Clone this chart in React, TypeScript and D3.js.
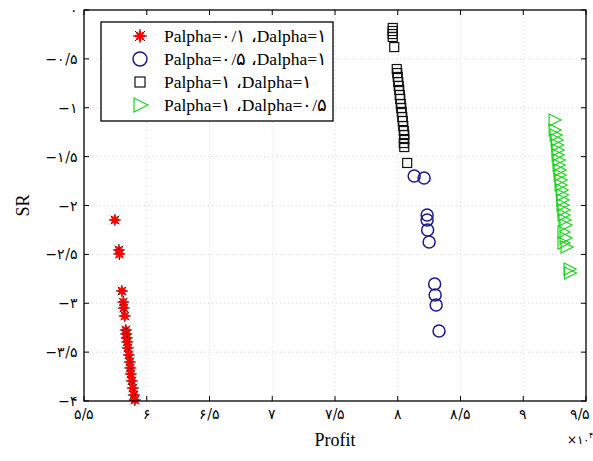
import React from "react";
import * as d3 from "d3";

const xTicks = [5.5, 6, 6.5, 7, 7.5, 8, 8.5, 9, 9.5];
const yTicks = [0, -0.5, -1, -1.5, -2, -2.5, -3, -3.5, -4];

const starX = [5.746, 5.778, 5.782, 5.802, 5.813, 5.817, 5.825, 5.833, 5.837, 5.841, 5.845, 5.849, 5.857, 5.865, 5.869, 5.873, 5.881, 5.889, 5.897, 5.905];
const starY = [-2.148, -2.455, -2.496, -2.875, -2.987, -3.049, -3.13, -3.274, -3.315, -3.355, -3.396, -3.458, -3.529, -3.601, -3.662, -3.724, -3.795, -3.867, -3.939, -3.99];

const circX = [8.131, 8.21, 8.234, 8.234, 8.238, 8.25, 8.294, 8.298, 8.306, 8.329];
const circY = [-1.698, -1.719, -2.097, -2.148, -2.251, -2.373, -2.803, -2.916, -3.018, -3.284];

const sqX = [7.96, 7.96, 7.96, 7.96, 7.972, 7.992, 7.996, 8.0, 8.004, 8.008, 8.012, 8.016, 8.02, 8.024, 8.028, 8.032, 8.036, 8.04, 8.044, 8.048, 8.052, 8.052, 8.048, 8.052, 8.075];
const sqY = [-0.184, -0.215, -0.246, -0.276, -0.379, -0.604, -0.645, -0.685, -0.737, -0.777, -0.818, -0.87, -0.91, -0.962, -1.003, -1.043, -1.095, -1.136, -1.187, -1.238, -1.279, -1.32, -1.361, -1.402, -1.565];

const triX = [9.254, 9.254, 9.262, 9.27, 9.274, 9.278, 9.278, 9.286, 9.286, 9.294, 9.294, 9.302, 9.302, 9.31, 9.314, 9.317, 9.317, 9.325, 9.325, 9.333, 9.341, 9.325, 9.341, 9.325, 9.349, 9.373, 9.376];
const triY = [-1.125, -1.228, -1.279, -1.33, -1.381, -1.432, -1.483, -1.535, -1.586, -1.637, -1.688, -1.739, -1.79, -1.841, -1.893, -1.944, -1.995, -2.046, -2.097, -2.148, -2.199, -2.271, -2.332, -2.384, -2.425, -2.65, -2.691];

const legendLabels = [
  "Palpha=۰/۱ ،Dalpha=۱",
  "Palpha=۰/۵ ،Dalpha=۱",
  "Palpha=۱ ،Dalpha=۱",
  "Palpha=۱ ،Dalpha=۰/۵",
];

const fa = (s: string) => s.replace(/[0-9]/g, (d) => "۰۱۲۳۴۵۶۷۸۹"[+d]);
const fmt = (v: number) => {
  const a = Math.abs(v);
  const s = fa(String(a).replace(".", "/"));
  return v < 0 ? "−" + s : s;
};

const W = 593, H = 461;
const L = 84, R = 586, T = 10, B = 401;
const x = d3.scaleLinear().domain([5.5, 9.5]).range([L, R]);
const y = d3.scaleLinear().domain([-4, 0]).range([B, T]);

const Star = ({ cx, cy, r = 6 }: { cx: number; cy: number; r?: number }) => {
  const angs = [0, 45, 90, 135];
  return (
    <g>
      {angs.map((a) => {
        const dx = Math.cos((a * Math.PI) / 180) * r;
        const dy = Math.sin((a * Math.PI) / 180) * r;
        return <line key={"b" + a} x1={cx - dx} y1={cy - dy} x2={cx + dx} y2={cy + dy} stroke="#300" strokeWidth={1} />;
      })}
      {angs.map((a) => {
        const dx = Math.cos((a * Math.PI) / 180) * r * 0.75;
        const dy = Math.sin((a * Math.PI) / 180) * r * 0.75;
        return <line key={"r" + a} x1={cx - dx} y1={cy - dy} x2={cx + dx} y2={cy + dy} stroke="#f00" strokeWidth={2.2} />;
      })}
      <circle cx={cx} cy={cy} r={2.2} fill="#f00" />
    </g>
  );
};

const Tri = ({ cx, cy, s = 6 }: { cx: number; cy: number; s?: number }) => (
  <path d={`M${cx - s},${cy - s} L${cx + s},${cy} L${cx - s},${cy + s} Z`} fill="none" stroke="#1fd21f" strokeWidth={1.2} />
);

export default function App() {
  const serif = "'Liberation Serif', 'Times New Roman', serif";
  const faFont = "'DejaVu Serif', 'Liberation Serif', serif";
  return (
    <svg width={W} height={H} style={{ position: "absolute", left: 0, top: 0, background: "#fff" }}>
      <rect x={0} y={0} width={W} height={H} fill="#fff" />
      {xTicks.slice(1, -1).map((t) => (
        <line key={"gx" + t} x1={x(t)} x2={x(t)} y1={T} y2={B} stroke="#d8d8d8" strokeDasharray="1,3" />
      ))}
      {yTicks.slice(1, -1).map((t) => (
        <line key={"gy" + t} y1={y(t)} y2={y(t)} x1={L} x2={R} stroke="#d8d8d8" strokeDasharray="1,3" />
      ))}
      {xTicks.map((t) => (
        <g key={"tx" + t}>
          <line x1={x(t)} x2={x(t)} y1={B} y2={B - 5} stroke="#000" />
          <line x1={x(t)} x2={x(t)} y1={T} y2={T + 5} stroke="#000" />
          <text x={Math.min(x(t), 580)} y={B + 18} textAnchor="middle" fontFamily={faFont} fontSize={14} fill="#000">{fmt(t)}</text>
        </g>
      ))}
      {yTicks.map((t) => (
        <g key={"ty" + t}>
          <line x1={L} x2={L + 5} y1={y(t)} y2={y(t)} stroke="#000" />
          <line x1={R} x2={R - 5} y1={y(t)} y2={y(t)} stroke="#000" />
          <text x={L - 6} y={y(t) + 5} textAnchor="end" fontFamily={faFont} fontSize={14} fill="#000">{fmt(t)}</text>
        </g>
      ))}
      {sqX.map((v, i) => (
        <rect key={"s" + i} x={x(v) - 4.5} y={y(sqY[i]) - 4.5} width={9} height={9} fill="none" stroke="#111" strokeWidth={1.2} />
      ))}
      {circX.map((v, i) => (
        <circle key={"c" + i} cx={x(v)} cy={y(circY[i])} r={6} fill="none" stroke="#1a1a8c" strokeWidth={1.5} />
      ))}
      {triX.map((v, i) => (
        <Tri key={"t" + i} cx={x(v)} cy={y(triY[i])} />
      ))}
      {starX.map((v, i) => (
        <Star key={"st" + i} cx={x(v)} cy={y(starY[i])} />
      ))}
      <rect x={L} y={T} width={R - L} height={B - T} fill="none" stroke="#000" strokeWidth={1.3} />
      <rect x={101} y={22} width={232} height={99} fill="#fff" stroke="#000" strokeWidth={1.3} />
      <Star cx={140} cy={36} r={7} />
      <circle cx={140} cy={59} r={7} fill="none" stroke="#1a1a8c" strokeWidth={1.5} />
      <rect x={135} y={77} width={10} height={10} fill="none" stroke="#111" strokeWidth={1.2} />
      <Tri cx={141} cy={105} s={7} />
      {legendLabels.map((l, i) => (
        <text key={"lg" + i} x={164} y={[36, 59, 82, 105][i] + 6} fontFamily={serif} fontSize={17.5} fill="#000" direction="ltr">{l}</text>
      ))}
      <text x={(L + R) / 2} y={446} textAnchor="middle" fontFamily={serif} fontSize={18} fill="#000">Profit</text>
      <text x={567} y={444} fontFamily={faFont} fontSize={12} fill="#000">×{fa("10")}<tspan dy={-6} fontSize={8}>{fa("4")}</tspan></text>
      <text transform={`translate(29,${(T + B) / 2}) rotate(-90)`} textAnchor="middle" fontFamily={serif} fontSize={18} fill="#000">SR</text>
    </svg>
  );
}
